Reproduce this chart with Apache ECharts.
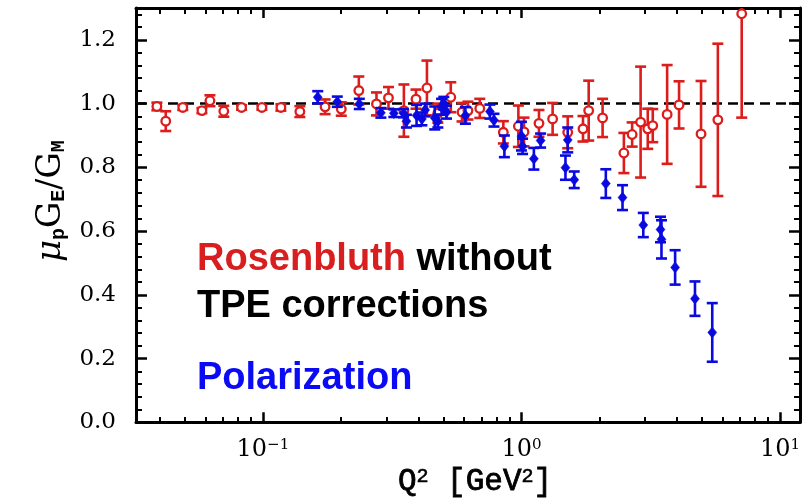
<!DOCTYPE html>
<html><head><meta charset="utf-8">
<script src="https://cdn.jsdelivr.net/npm/echarts@6/dist/echarts.min.js"></script>
<style>html,body{margin:0;padding:0;background:#fff}#c{width:812px;height:503px}</style>
</head><body><div id="c"></div>
<script>
// Rosenbluth (without TPE corrections)
const rosQ2  = [0.0389,0.0421,0.0490,0.0581,0.0624,0.0706,0.0827,0.0991,0.1174,0.139,0.174,0.201,0.235,0.275,0.306,0.351,0.391,0.431,0.475,0.533,0.589,0.621,0.690,0.851,0.973,1.023,1.169,1.32,1.51,1.73,1.82,2.06,2.49,2.68,2.89,3.08,3.22,3.66,4.07,4.95,5.75,7.11];
const rosVal = [0.991,0.945,0.988,0.978,1.009,0.976,0.988,0.988,0.988,0.975,0.990,0.983,1.041,0.999,1.018,0.978,1.014,1.049,0.970,1.020,0.973,0.978,0.985,0.910,0.929,0.911,0.938,0.952,0.910,0.921,0.978,0.955,0.845,0.903,0.942,0.921,0.931,0.966,0.996,0.905,0.949,1.282];
const rosErr = [0.012,0.031,0.008,0.008,0.017,0.017,0.007,0.007,0.010,0.017,0.023,0.021,0.044,0.036,0.034,0.082,0.030,0.086,0.030,0.047,0.029,0.028,0.030,0.035,0.065,0.045,0.042,0.050,0.050,0.040,0.094,0.060,0.063,0.038,0.174,0.063,0.052,0.155,0.074,0.166,0.239,0.326];
// Polarization transfer
const polQ2  = [0.163,0.194,0.236,0.286,0.321,0.350,0.359,0.393,0.412,0.424,0.462,0.475,0.491,0.501,0.513,0.607,0.755,0.783,0.859,1.00,1.01,1.117,1.186,1.48,1.51,1.60,2.12,2.46,2.96,3.45,3.48,3.93,4.69,5.47];
const polVal = [1.020,1.006,0.999,0.971,0.970,0.970,0.945,0.963,0.952,0.980,0.955,0.945,0.990,1.001,0.973,0.963,0.975,0.948,0.866,0.898,0.866,0.827,0.884,0.799,0.886,0.761,0.749,0.705,0.619,0.605,0.574,0.486,0.388,0.282];
const polErr = [0.019,0.016,0.016,0.015,0.012,0.013,0.020,0.033,0.020,0.020,0.036,0.020,0.025,0.020,0.020,0.026,0.022,0.020,0.034,0.045,0.024,0.034,0.022,0.038,0.039,0.026,0.045,0.039,0.038,0.040,0.060,0.054,0.054,0.092];
// axes
const xMin = 0.0323, xMax = 11.95;
const yMin = 0, yMax = 1.3, yStep = 0.2;
const yTickLabels = [0, 0.2, 0.4, 0.6, 0.8, 1.0, 1.2];
const xMajor = [0.1, 1, 10];
const xMinor = [0.04,0.05,0.06,0.07,0.08,0.09,0.2,0.3,0.4,0.5,0.6,0.7,0.8,0.9,2,3,4,5,6,7,8,9];
const refLine = 1.0;

const RED = '#dd1c1c', BLUE = '#0a0ae0';
const numFont = 'DejaVu Serif';
const monoFont = 'Liberation Mono';

function makeData(q, v, e) { return q.map((x, i) => [x, v[i], e[i]]); }

function errRenderer(kind, color) {
  return function (params, api) {
    const x = api.value(0), y = api.value(1), e = api.value(2);
    const p = api.coord([x, y]);
    const top = api.coord([x, y + e]);
    const bot = api.coord([x, y - e]);
    const cs = params.coordSys;
    const t = Math.max(top[1], cs.y);
    const b = Math.min(bot[1], cs.y + cs.height);
    const cw = 5.5;
    const ls = { stroke: color, lineWidth: 2.6 };
    const ch = [{ type: 'line', shape: { x1: p[0], y1: t, x2: p[0], y2: b }, style: ls }];
    if (top[1] >= cs.y) ch.push({ type: 'line', shape: { x1: p[0] - cw, y1: top[1], x2: p[0] + cw, y2: top[1] }, style: ls });
    ch.push({ type: 'line', shape: { x1: p[0] - cw, y1: bot[1], x2: p[0] + cw, y2: bot[1] }, style: ls });
    if (kind === 'circle') {
      ch.push({ type: 'circle', shape: { cx: p[0], cy: p[1], r: 4.3 }, style: { fill: '#fff', stroke: color, lineWidth: 2.3 } });
    } else {
      ch.push({ type: 'polygon', shape: { points: [[p[0], p[1] - 5.5], [p[0] + 4.5, p[1]], [p[0], p[1] + 5.5], [p[0] - 4.5, p[1]]] }, style: { fill: color, stroke: color, lineWidth: 0.5 } });
    }
    return { type: 'group', children: ch };
  };
}

const expText = { '0.1': '−1', '1': '0', '10': '1' };
const chart = echarts.init(document.getElementById('c'), null, { renderer: 'canvas' });
const gridBox = { left: 136, right: 12, top: 8, bottom: 80 };
const majorTickStyle = { color: '#000', width: 2.5 };

chart.setOption({
  animation: false,
  backgroundColor: '#fff',
  grid: [Object.assign({ containLabel: false }, gridBox), Object.assign({ containLabel: false }, gridBox)],
  xAxis: [
    {
      type: 'log', logBase: 10, min: xMin, max: xMax, gridIndex: 0, position: 'bottom',
      axisLine: { show: true, onZero: false, lineStyle: { color: '#000', width: 3 } },
      axisTick: { show: true, inside: true, length: 10, customValues: xMajor, lineStyle: majorTickStyle },
      axisLabel: {
        customValues: xMajor, margin: 15,
        formatter: v => '{b|10}{s|' + (expText[String(v)] || '') + '}',
        rich: {
          b: { fontFamily: numFont, fontSize: 24, color: '#000', verticalAlign: 'bottom', lineHeight: 24, padding: [6, 0, 0, 0] },
          s: { fontFamily: numFont, fontSize: 15, color: '#000', verticalAlign: 'top', lineHeight: 15 }
        }
      },
      splitLine: { show: false },
      name: 'Q{s|2} [GeV{s|2}]', nameLocation: 'middle', nameGap: 44,
      nameTextStyle: {
        fontFamily: monoFont, fontSize: 31, color: '#000', textBorderColor: '#000', textBorderWidth: 0.8,
        padding: [0, 0, 0, 14],
        rich: {
          s: { fontFamily: monoFont, fontSize: 20, color: '#000', textBorderColor: '#000', textBorderWidth: 0.6, verticalAlign: 'top', lineHeight: 20 }
        }
      }
    },
    {
      type: 'log', logBase: 10, min: xMin, max: xMax, gridIndex: 0, position: 'top',
      axisLine: { show: true, onZero: false, lineStyle: { color: '#000', width: 3 } },
      axisTick: { show: true, inside: true, length: 10, customValues: xMajor, lineStyle: majorTickStyle },
      axisLabel: { show: false }, splitLine: { show: false }
    },
    {
      type: 'log', logBase: 10, min: xMin, max: xMax, gridIndex: 1, position: 'bottom',
      axisLine: { show: false },
      axisTick: { show: true, inside: true, length: 6, customValues: xMinor, lineStyle: { color: '#000', width: 2 } },
      axisLabel: { show: false }, splitLine: { show: false }
    },
    {
      type: 'log', logBase: 10, min: xMin, max: xMax, gridIndex: 1, position: 'top',
      axisLine: { show: false },
      axisTick: { show: true, inside: true, length: 6, customValues: xMinor, lineStyle: { color: '#000', width: 2 } },
      axisLabel: { show: false }, splitLine: { show: false }
    }
  ],
  yAxis: [
    {
      type: 'value', min: yMin, max: yMax, interval: yStep, gridIndex: 0, position: 'left',
      axisLine: { show: true, onZero: false, lineStyle: { color: '#000', width: 3 } },
      axisTick: { show: true, inside: true, length: 11, lineStyle: majorTickStyle },
      minorTick: { show: true, splitNumber: 5, length: 6, lineStyle: { color: '#000', width: 2 } },
      axisLabel: {
        customValues: yTickLabels, margin: 20,
        formatter: v => v.toFixed(1),
        fontFamily: numFont, fontSize: 23, color: '#000'
      },
      splitLine: { show: false },
      name: '{g|μ}{sub|p}G{sub|E}/G{sub|M}', nameLocation: 'middle', nameGap: 66, nameRotate: 90,
      nameTextStyle: {
        fontFamily: 'DejaVu Serif', fontSize: 33, color: '#000', padding: [0, 0, 0, 28],
        rich: {
          g: { fontFamily: 'DejaVu Serif', fontStyle: 'italic', fontSize: 34, color: '#000' },
          sub: { fontFamily: monoFont, fontWeight: 'bold', fontSize: 20, color: '#000', verticalAlign: 'bottom', lineHeight: 20, padding: [24, 0, 0, 0] }
        }
      }
    },
    {
      type: 'value', min: yMin, max: yMax, interval: yStep, gridIndex: 0, position: 'right',
      axisLine: { show: true, onZero: false, lineStyle: { color: '#000', width: 3 } },
      axisTick: { show: true, inside: true, length: 11, lineStyle: majorTickStyle },
      minorTick: { show: true, splitNumber: 5, length: 6, lineStyle: { color: '#000', width: 2 } },
      axisLabel: { show: false }, splitLine: { show: false }
    },
    { type: 'value', min: yMin, max: yMax, gridIndex: 1, show: false }
  ],
  series: [
    {
      type: 'custom', name: 'Rosenbluth', xAxisIndex: 0, yAxisIndex: 0, z: 3,
      renderItem: errRenderer('circle', RED),
      data: makeData(rosQ2, rosVal, rosErr),
      markLine: {
        silent: true, symbol: 'none', z: 1, label: { show: false },
        lineStyle: { color: '#000', type: [10, 6], width: 2.5 },
        data: [{ yAxis: refLine }]
      }
    },
    {
      type: 'custom', name: 'Polarization', xAxisIndex: 0, yAxisIndex: 0, z: 4,
      renderItem: errRenderer('diamond', BLUE),
      data: makeData(polQ2, polVal, polErr)
    }
  ],
  graphic: [
    {
      type: 'text', left: 197, top: 241,
      style: {
        text: '{r|Rosenbluth} {k|without}',
        rich: {
          r: { fontFamily: 'Liberation Sans', fontWeight: 'bold', fontSize: 38, fill: '#d81e1e' },
          k: { fontFamily: 'Liberation Sans', fontWeight: 'bold', fontSize: 38, fill: '#000' }
        },
        font: 'bold 38px "Liberation Sans"'
      }
    },
    {
      type: 'text', left: 197, top: 288,
      style: { text: 'TPE corrections', font: 'bold 38px "Liberation Sans"', fill: '#000' }
    },
    {
      type: 'text', left: 197, top: 360,
      style: { text: 'Polarization', font: 'bold 38px "Liberation Sans"', fill: '#0a0af5' }
    }
  ]
});
</script>
</body></html>
